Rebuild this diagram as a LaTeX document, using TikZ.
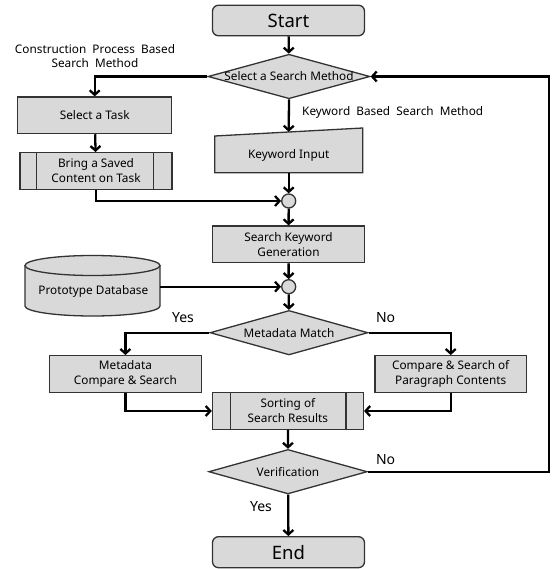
\documentclass[tikz,border=0pt]{standalone}
\usepackage{fontspec}
\setmainfont{Noto Sans}
\usetikzlibrary{shapes.geometric,arrows.meta}
\definecolor{boxfill}{HTML}{D9D9D9}
\definecolor{boxline}{HTML}{333333}
\tikzset{
  box/.style={draw=boxline, fill=boxfill, line width=1.3pt, inner sep=0pt, align=center, font=\fontsize{11.8}{15}\selectfont},
  procbox/.style={box, rectangle, minimum width=152pt, minimum height=36.6pt},
  termbox/.style={box, rectangle, rounded corners=6pt, minimum width=152pt, minimum height=30.5pt, font=\fontsize{18.5}{20}\selectfont},
  decbox/.style={box, diamond, minimum width=160pt, minimum height=44.5pt},
  junc/.style={draw=boxline, fill=boxfill, line width=1.3pt, circle, minimum size=14pt, inner sep=0pt},
  ghost/.style={inner sep=0pt, rectangle},
  arr/.style={line width=2.3pt, -{Straight Barb[length=4.5pt,width=10pt,line width=2.3pt]}},
  lbl/.style={inner sep=0pt, font=\fontsize{14}{15}\selectfont},
  slbl/.style={inner sep=0pt, align=center, font=\fontsize{11.8}{14}\selectfont}
}
\begin{document}
\begin{tikzpicture}[x=1pt,y=-1pt]
\useasboundingbox (0,0) rectangle (552,569);
% nodes
\node[termbox] (start) at (288.5,20.5) {Start};
\node[decbox, minimum width=162pt] (sel) at (289,76.5) {\makebox[0pt]{Select a Search Method}};
\node[procbox, minimum width=154pt] (task) at (94.7,115.3) {Select a Task};
\node[procbox] (bring) at (96,171) {Bring a Saved\\Content on Task};
\draw[boxline, line width=1.3pt] ([xshift=17pt]bring.north west) -- ([xshift=17pt]bring.south west);
\draw[boxline, line width=1.3pt] ([xshift=-19pt]bring.north east) -- ([xshift=-19pt]bring.south east);
% keyword input (manual input)
\draw[boxline, fill=boxfill, line width=1.3pt] (214.8,136) -- (362.7,128) -- (362.7,172.7) -- (214.8,172.7) -- cycle;
\node[ghost, minimum width=148pt, minimum height=40.7pt] (kin) at (288.7,152.35) {};
\node[slbl] (kintext) at (288.7,155) {Keyword Input};
\node[junc] (c1) at (288.7,201) {};
\node[procbox] (skg) at (288.5,244.3) {Search Keyword\\Generation};
\node[junc] (c2) at (288.7,286.7) {};
% database cylinder
\draw[boxline, fill=boxfill, line width=1.3pt] (25,265.5) -- (25,306) arc[start angle=180, end angle=360, x radius=67.5pt, y radius=10pt] -- (160,265.5);
\draw[boxline, fill=boxfill, line width=1.3pt] (92.5,265.5) ellipse [x radius=67.5pt, y radius=10pt];
\node[ghost, minimum width=135pt, minimum height=60pt] (db) at (92.5,286.7) {};
\node[slbl] (dbtext) at (93.3,291.7) {Prototype Database};
\node[decbox, minimum width=158pt] (mm) at (289,332.7) {\makebox[0pt]{Metadata Match}};
\node[procbox] (mcs) at (125.4,374) {Metadata\\Compare \& Search};
\node[procbox, minimum width=151.4pt] (csp) at (450.7,374) {Compare \& Search of\\Paragraph Contents};
\node[procbox, minimum width=151pt] (sort) at (287.9,411) {Sorting of\\Search Results};
\draw[boxline, line width=1.3pt] ([xshift=19pt]sort.north west) -- ([xshift=19pt]sort.south west);
\draw[boxline, line width=1.3pt] ([xshift=-18pt]sort.north east) -- ([xshift=-18pt]sort.south east);
\node[decbox, minimum width=158.5pt] (ver) at (288,471.7) {\makebox[0pt]{Verification}};
\node[termbox, minimum height=31pt] (end) at (288.5,552.2) {End};
\coordinate (fbr) at (549,471.7);
% labels
\node[slbl] (lcp) at (95,56) {Construction\ \ Process\ \ Based\\Search\ \ Method};
\node[slbl, anchor=west] (lkw) at (302,112.3) {Keyword\ \ Based\ \ Search\ \ Method};
\node[lbl] (yes1) at (183,318) {Yes};
\node[lbl] (no1) at (385.6,318) {No};
\node[lbl] (no2) at (385.6,459.3) {No};
\node[lbl] (yes2) at (261,507) {Yes};
% connectors
\draw[arr] (start) -- (sel);
\draw[arr] (sel.west) -| (task.north);
\draw[arr] (task) -- (bring);
\draw[arr] (bring.south) |- (c1.west);
\draw[arr] (sel.south) -- (kin.north);
\draw[arr] (kin.south) -- (c1.north);
\draw[arr] (c1) -- (skg);
\draw[arr] (skg) -- (c2);
\draw[arr] (db.east) -- (c2.west);
\draw[arr] (c2) -- (mm);
\draw[arr] (mm.west) -| (mcs.north);
\draw[arr] (mm.east) -| (csp.north);
\draw[arr] (mcs.south) |- (sort.west);
\draw[arr] (csp.south) |- (sort.east);
\draw[arr] (sort) -- (ver);
\draw[arr] (ver) -- (end);
\draw[arr] (ver.east) -- (fbr) |- (sel.east);
\end{tikzpicture}
\end{document}
